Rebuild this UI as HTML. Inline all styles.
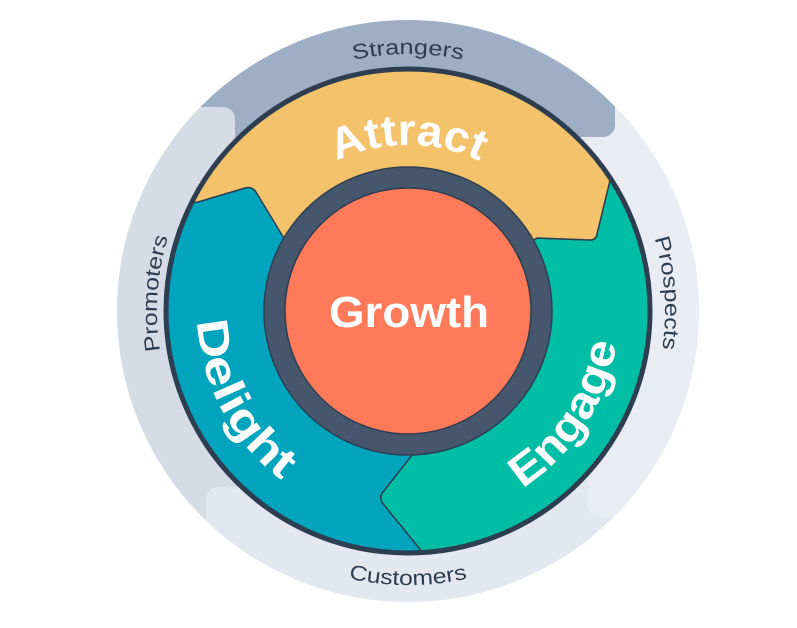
<!DOCTYPE html>
<html><head><meta charset="utf-8"><style>
html,body{margin:0;padding:0;background:#fff;width:797px;height:628px;overflow:hidden;}
svg{display:block;position:absolute;left:0;top:0;}
text{font-family:"Liberation Sans",sans-serif;}
</style></head><body>
<svg width="797" height="628" viewBox="0 0 797 628" xmlns="http://www.w3.org/2000/svg">
<defs>
<clipPath id="outer"><circle cx="408" cy="311" r="291"/></clipPath>
<clipPath id="wheel"><circle cx="408" cy="311" r="242"/></clipPath>
<path id="pAttract" d="M252,254.2 A166,166 0 0 1 564,254.2"/>
<path id="pStr" d="M166.5,223.1 A257,257 0 0 1 649.5,223.1"/>
<path id="pCus" d="M150.5,404.7 A274,274 0 0 0 665.5,404.7"/>
<path id="pEng" d="M397,521.7 A211,211 0 0 0 596,215.2"/>
<path id="pDel" d="M229.1,199.2 A211,211 0 0 0 400.6,521.9"/>
<path id="pPro" d="M266.5,520.7 A255,255 0 0 1 297.1,83.6"/>
<path id="pPros" d="M520.7,80 A257,257 0 0 1 551.7,524.1"/>
</defs>
<g clip-path="url(#outer)">
  <rect x="0" y="0" width="797" height="628" fill="#e2e6ee"/>
  <rect x="0" y="100" width="240" height="560" rx="12" fill="#d6dce6"/>
  <rect x="206" y="487" width="600" height="200" rx="12" fill="#e3e7ef"/>
  <rect x="588" y="-20" width="250" height="537" rx="12" fill="#e9ecf3"/>
  <rect x="-20" y="-20" width="635" height="157" rx="12" fill="#9eaec4"/>
  <rect x="-20" y="107" width="255" height="380" rx="12" fill="#d6dce6"/>
</g>
<g clip-path="url(#wheel)">
  <rect x="160" y="60" width="500" height="500" fill="#00a4bd"/>
  <path d="M423,553 L384,505 Q378,498 383,492 L412,455 L408,311 L537,238 L590,240 Q596,240 597,234 L612,172 L720,150 L720,620 L430,620 Z" fill="#00bda5" stroke="#2d3e50" stroke-width="1.5" stroke-linejoin="round"/>
  <path d="M100,215 L198,202 L245,188 Q252,186 256,192 L285,240 L408,311 L537,238 L590,240 Q596,240 597,234 L612,172 L700,120 L700,0 L100,0 Z" fill="#f4c26b" stroke="#2d3e50" stroke-width="1.5" stroke-linejoin="round"/>
</g>
<circle cx="408" cy="311" r="242" fill="none" stroke="#2d3e50" stroke-width="5"/>
<circle cx="408" cy="311" r="144" fill="#45566d" stroke="#2d3e50" stroke-width="1.5"/>
<circle cx="408" cy="311" r="123" fill="#ff7a59" stroke="#2d3e50" stroke-width="1.5"/>
<text x="409" y="327" text-anchor="middle" font-size="44" font-weight="bold" fill="#fff" textLength="160" lengthAdjust="spacingAndGlyphs">Growth</text>
<text font-size="44" font-weight="bold" fill="#fff"><textPath href="#pAttract" startOffset="50%" text-anchor="middle" textLength="148" lengthAdjust="spacingAndGlyphs">Attract</textPath></text>
<text font-size="44" font-weight="bold" fill="#fff"><textPath href="#pEng" startOffset="50%" text-anchor="middle" textLength="178" lengthAdjust="spacingAndGlyphs">Engage</textPath></text>
<text font-size="44" font-weight="bold" fill="#fff"><textPath href="#pDel" startOffset="50%" text-anchor="middle" textLength="186" lengthAdjust="spacingAndGlyphs">Delight</textPath></text>
<text font-size="21" fill="#2d3e50"><textPath href="#pStr" startOffset="50%" text-anchor="middle" textLength="110" lengthAdjust="spacingAndGlyphs">Strangers</textPath></text>
<text font-size="21" fill="#2d3e50"><textPath href="#pCus" startOffset="50%" text-anchor="middle" textLength="120" lengthAdjust="spacingAndGlyphs">Customers</textPath></text>
<text font-size="21" fill="#2d3e50"><textPath href="#pPro" startOffset="50%" text-anchor="middle" textLength="115" lengthAdjust="spacingAndGlyphs">Promoters</textPath></text>
<text font-size="21" fill="#2d3e50"><textPath href="#pPros" startOffset="50%" text-anchor="middle" textLength="112" lengthAdjust="spacingAndGlyphs">Prospects</textPath></text>
</svg>
</body></html>
